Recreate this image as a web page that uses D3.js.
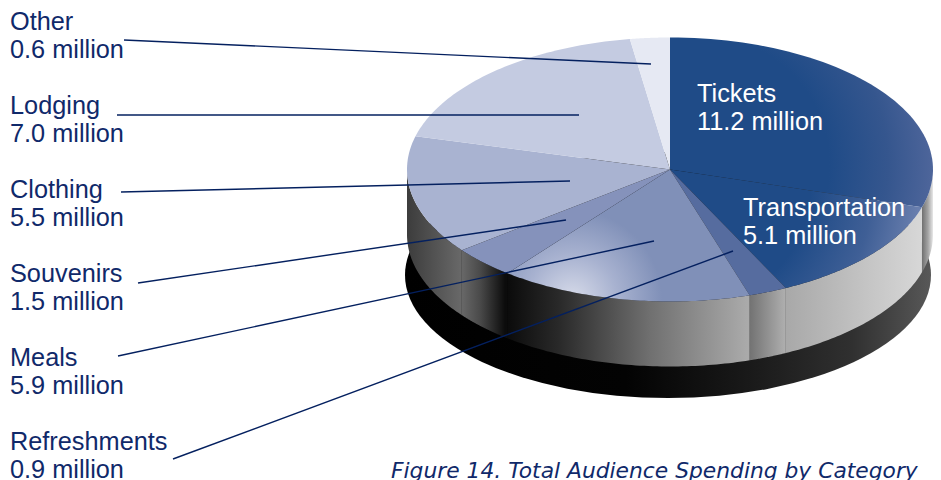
<!DOCTYPE html>
<html>
<head>
<meta charset="utf-8">
<script src="https://cdn.jsdelivr.net/npm/d3@7/dist/d3.min.js"></script>
<style>
html,body{margin:0;padding:0;background:#fff;overflow:hidden}
svg{display:block}
text{font-family:"Liberation Sans",Arial,sans-serif}
</style>
</head>
<body>
<svg id="chart" width="941" height="480"></svg>
<script>
// Spending per category, in millions, clockwise from twelve o'clock.
const categories = ["Tickets","Transportation","Refreshments","Meals","Souvenirs","Clothing","Lodging","Other"];
const spending = [11.2,5.1,0.9,5.9,1.5,5.5,7.0,0.6];
const faceColors = ["#1f4b87","#566c9f","#566c9f","#8090b8","#8592bb","#a9b3d1","#c4cbe1","#e6e9f3"];
// Label anchor (left edge, first baseline) and leader line end points.
const labelLeft = [697,743,10,10,10,10,10,10];
const labelTop = [101.5,215.5,449.5,365.5,281.5,197.5,113.5,29.5];
const leaderStart = [null,null,[173,459],[118,356],[138,283],[121,192],[117,115],[124,40]];
const leaderEnd = [null,null,[733,251],[654,241],[566,220],[570,181],[579,115],[651,64]];
// Grey ramps for the wall under each slice, dark to light left to right.
const wallStops = [
  [[922,"#707070"],[928,"#a4a4a4"],[933,"#e8e8e8"]],
  [[785,"#a8a8a8"],[924,"#d8d8d8"]],
  [[747,"#6e6e6e"],[785,"#aeaeae"]],
  [[509,"#0c0c0c"],[560,"#2a2a2a"],[650,"#707070"],[747,"#aaaaaa"]],
  [[463,"#666666"],[480,"#4a4a4a"],[505,"#0c0c0c"]],
  [[407,"#3c3c3c"],[463,"#6a6a6a"]],
  [[407,"#3c3c3c"],[463,"#6a6a6a"]],
  [[407,"#3c3c3c"],[463,"#6a6a6a"]]
];

const svg = d3.select("#chart");
const defs = svg.append("defs");

const cx = 670, cy = 169.5, rx = 263, ry = 132, wallDepth = 65;
const baseCx = 668, baseCy = 275, baseRx = 263, baseRy = 123;

const pie = d3.pie().sort(null).value(d => d);
const arcs = pie(spending);
// Slight foreshortening of the sweep caused by the tilted view.
const sweep = d3.scaleLinear()
  .domain([0, 1.87, 2.716, 4.10, 6.18, 2 * Math.PI])
  .range([0, 1.865, 2.685, 4.055, 6.125, 2 * Math.PI]);

const rimX = a => cx + rx * Math.sin(a);
const rimY = a => cy - ry * Math.cos(a);
const sectorPath = (a0, a1) => {
  const pts = d3.range(0, 61).map(i => {
    const a = a0 + (a1 - a0) * i / 60;
    return [rimX(a), rimY(a)];
  });
  return d3.line()([[cx, cy], ...pts]) + "Z";
};
const wallPath = (a0, a1) => {
  const from = Math.max(a0, Math.PI / 2), to = Math.min(a1, Math.PI * 1.5);
  if (to <= from) return null;
  const pts = d3.range(0, 61).map(i => {
    const a = from + (to - from) * i / 60;
    return [rimX(a), rimY(a)];
  });
  const low = pts.slice().reverse().map(p => [p[0], p[1] + wallDepth]);
  return d3.line()([...pts, ...low]) + "Z";
};

// Dark foot of the drum.
const baseGrad = defs.append("linearGradient").attr("id","base")
  .attr("gradientUnits","userSpaceOnUse").attr("x1",405).attr("x2",931).attr("y1",0).attr("y2",0);
[[0,"#000"],[0.42,"#030303"],[0.66,"#1a1a1a"],[0.85,"#303030"],[1,"#585858"]]
  .forEach(s => baseGrad.append("stop").attr("offset",s[0]).attr("stop-color",s[1]));
svg.append("ellipse").attr("cx",baseCx).attr("cy",baseCy).attr("rx",baseRx).attr("ry",baseRy).attr("fill","url(#base)");

// Wall under every slice that faces the viewer.
arcs.forEach((d, i) => {
  const p = wallPath(sweep(d.startAngle), sweep(d.endAngle));
  if (!p) return;
  const g = defs.append("linearGradient").attr("id","wall"+i)
    .attr("gradientUnits","userSpaceOnUse").attr("x1",wallStops[i][0][0])
    .attr("x2",wallStops[i][wallStops[i].length-1][0]).attr("y1",0).attr("y2",0);
  const span = wallStops[i][wallStops[i].length-1][0] - wallStops[i][0][0];
  wallStops[i].forEach(s => g.append("stop").attr("offset",(s[0]-wallStops[i][0][0])/span).attr("stop-color",s[1]));
  svg.append("path").attr("d",p).attr("fill","url(#wall"+i+")");
});

// Soft sheen on the ticket and transport slices, and the bright spot on meals.
const sheen = defs.append("radialGradient").attr("id","sheen")
  .attr("gradientUnits","userSpaceOnUse").attr("cx",700).attr("cy",165).attr("r",235);
[[0,"#1f4b87"],[0.55,"#1f4b87"],[0.8,"#35568e"],[1,"#4f669b"]]
  .forEach(s => sheen.append("stop").attr("offset",s[0]).attr("stop-color",s[1]));
const sheen2 = defs.append("radialGradient").attr("id","sheen2")
  .attr("gradientUnits","userSpaceOnUse").attr("cx",700).attr("cy",190).attr("r",220);
[[0,"#1f4b87"],[0.5,"#1f4b87"],[0.78,"#3f5f96"],[1,"#6a7fae"]]
  .forEach(s => sheen2.append("stop").attr("offset",s[0]).attr("stop-color",s[1]));
const spot = defs.append("radialGradient").attr("id","spot")
  .attr("gradientUnits","userSpaceOnUse").attr("cx",572).attr("cy",300).attr("r",90);
[[0,"#d8dcea"],[0.5,"#a8b2d0"],[1,"#8090b8"]]
  .forEach(s => spot.append("stop").attr("offset",s[0]).attr("stop-color",s[1]));

const faceFill = i => i === 0 ? "url(#sheen)" : i === 1 ? "url(#sheen2)" : i === 3 ? "url(#spot)" : faceColors[i];
svg.append("g").selectAll("path").data(arcs).join("path")
  .attr("d", d => sectorPath(sweep(d.startAngle), sweep(d.endAngle)))
  .attr("fill", (d, i) => faceFill(i));

// Leader lines from the outside labels into their slices.
svg.append("g").selectAll("line").data(categories.map((c, i) => i).filter(i => leaderStart[i])).join("line")
  .attr("x1", i => leaderStart[i][0]).attr("y1", i => leaderStart[i][1])
  .attr("x2", i => leaderEnd[i][0]).attr("y2", i => leaderEnd[i][1])
  .attr("stroke","#04205f").attr("stroke-width",1.4);

// Category name over its value.
const labels = svg.append("g").selectAll("text").data(categories).join("text")
  .attr("x", (d, i) => labelLeft[i]).attr("y", (d, i) => labelTop[i])
  .attr("font-size",25.3)
  .attr("fill", (d, i) => i < 2 ? "#ffffff" : "#10296a");
labels.append("tspan").text(d => d);
labels.append("tspan").attr("dy",28)
  .attr("x", (d, i) => labelLeft[i])
  .text((d, i) => d3.format(".1f")(spending[i]) + " million");

svg.append("text").attr("x",391).attr("y",478)
  .style("font-family",'"DejaVu Sans",sans-serif').attr("font-style","italic")
  .attr("font-size",21.8).attr("fill","#10296a")
  .text("Figure 14. Total Audience Spending by Category");
</script>
</body>
</html>
